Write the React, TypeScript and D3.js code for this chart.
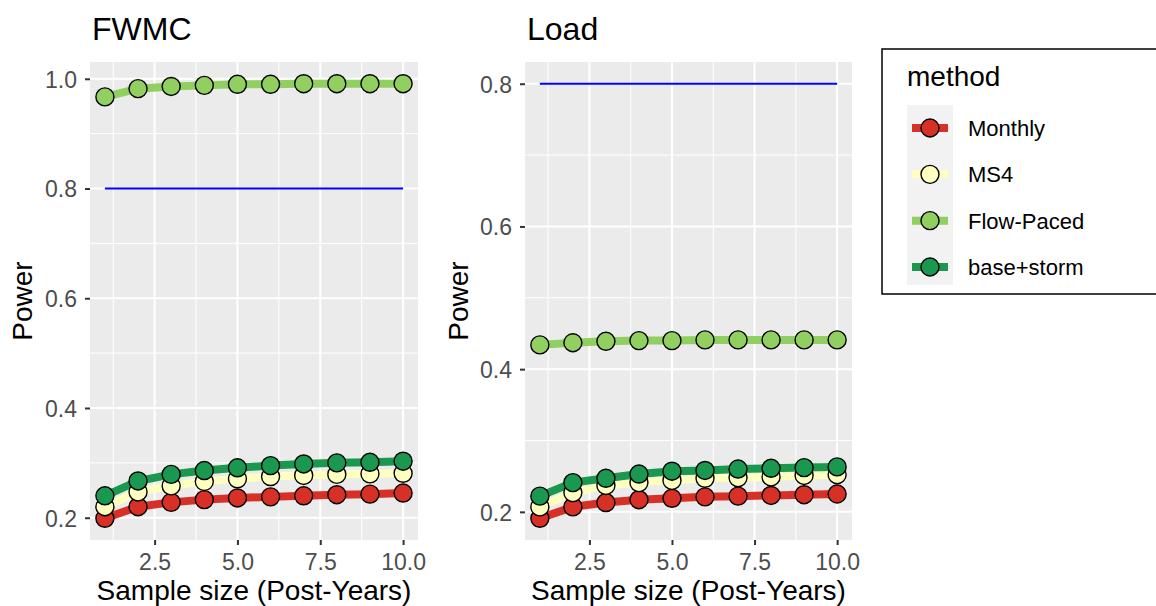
import React, { useEffect, useRef } from 'react';
import * as d3 from 'd3';

const years = [1, 2, 3, 4, 5, 6, 7, 8, 9, 10];
const methods = ['Monthly', 'MS4', 'Flow-Paced', 'base+storm'];
const colors = ['#D73027', '#FFFFBF', '#91CF60', '#1A9850'];
const target = 0.8;

// FWMC panel
const monthlyFwmc = [0.199, 0.220, 0.228, 0.233, 0.236, 0.238, 0.240, 0.242, 0.243, 0.245];
const ms4Fwmc = [0.220, 0.247, 0.258, 0.266, 0.271, 0.275, 0.277, 0.279, 0.280, 0.281];
const flowFwmc = [0.967, 0.982, 0.986, 0.988, 0.990, 0.990, 0.991, 0.991, 0.991, 0.991];
const baseStormFwmc = [0.240, 0.267, 0.279, 0.286, 0.291, 0.295, 0.298, 0.300, 0.301, 0.303];

// Load panel
const monthlyLoad = [0.191, 0.207, 0.213, 0.217, 0.219, 0.221, 0.222, 0.223, 0.224, 0.225];
const ms4Load = [0.207, 0.227, 0.237, 0.241, 0.244, 0.247, 0.248, 0.249, 0.251, 0.252];
const flowLoad = [0.434, 0.437, 0.439, 0.440, 0.440, 0.441, 0.441, 0.441, 0.441, 0.441];
const baseStormLoad = [0.222, 0.241, 0.247, 0.253, 0.257, 0.258, 0.260, 0.261, 0.262, 0.263];

const xTicks = [2.5, 5.0, 7.5, 10.0];
const xMinor = [1.25, 3.75, 6.25, 8.75];

const FONT = '"Liberation Sans", Arial, sans-serif';

const App = () => {
    const ref = useRef<SVGSVGElement>(null);

    useEffect(() => {
        const svg = d3.select(ref.current);
        svg.selectAll('*').remove();

        const panels = [
            { title: 'FWMC', left: 90, right: 418, series: [monthlyFwmc, ms4Fwmc, flowFwmc, baseStormFwmc], yTicks: [0.2, 0.4, 0.6, 0.8, 1.0], yMinor: [0.3, 0.5, 0.7, 0.9], labelX: 22 },
            { title: 'Load', left: 525, right: 852, series: [monthlyLoad, ms4Load, flowLoad, baseStormLoad], yTicks: [0.2, 0.4, 0.6, 0.8], yMinor: [0.3, 0.5, 0.7], labelX: 458 },
        ];
        const top = 62;
        const bottom = 540;

        panels.forEach(p => {
            const all = [...p.series.flat(), target];
            const [lo, hi] = d3.extent(all) as [number, number];
            const pad = (hi - lo) * 0.05;
            const x = d3.scaleLinear().domain([1 - 0.45, 10 + 0.45]).range([p.left, p.right]);
            const y = d3.scaleLinear().domain([lo - pad, hi + pad]).range([bottom, top]);

            const g = svg.append('g');
            g.append('rect')
                .attr('x', p.left).attr('y', top)
                .attr('width', p.right - p.left).attr('height', bottom - top)
                .attr('fill', '#EBEBEB');

            // minor grid
            g.selectAll('.ymin').data(p.yMinor.filter(v => y(v) > top && y(v) < bottom)).enter().append('line')
                .attr('x1', p.left).attr('x2', p.right)
                .attr('y1', d => y(d)).attr('y2', d => y(d))
                .attr('stroke', '#fff').attr('stroke-width', 1);
            g.selectAll('.xmin').data(xMinor).enter().append('line')
                .attr('y1', top).attr('y2', bottom)
                .attr('x1', d => x(d)).attr('x2', d => x(d))
                .attr('stroke', '#fff').attr('stroke-width', 1);
            // major grid
            g.selectAll('.ymaj').data(p.yTicks).enter().append('line')
                .attr('x1', p.left).attr('x2', p.right)
                .attr('y1', d => y(d)).attr('y2', d => y(d))
                .attr('stroke', '#fff').attr('stroke-width', 2);
            g.selectAll('.xmaj').data(xTicks).enter().append('line')
                .attr('y1', top).attr('y2', bottom)
                .attr('x1', d => x(d)).attr('x2', d => x(d))
                .attr('stroke', '#fff').attr('stroke-width', 2);

            // target line
            g.append('line')
                .attr('x1', x(1)).attr('x2', x(10))
                .attr('y1', y(target)).attr('y2', y(target))
                .attr('stroke', '#0000FF').attr('stroke-width', 2);

            const line = d3.line<number>().x((d, i) => x(years[i])).y(d => y(d));
            p.series.forEach((s, k) => {
                g.append('path')
                    .attr('d', line(s))
                    .attr('fill', 'none')
                    .attr('stroke', colors[k])
                    .attr('stroke-width', 8);
            });
            p.series.forEach((s, k) => {
                g.selectAll(`.pt${k}`).data(s).enter().append('circle')
                    .attr('cx', (d, i) => x(years[i]))
                    .attr('cy', d => y(d))
                    .attr('r', 9)
                    .attr('fill', colors[k])
                    .attr('stroke', '#000')
                    .attr('stroke-width', 1.4);
            });

            // axes
            const yAxis = d3.axisLeft(y).tickValues(p.yTicks).tickFormat(d3.format('.1f')).tickSize(5).tickPadding(8);
            const xAxis = d3.axisBottom(x).tickValues(xTicks).tickFormat(d3.format('.1f')).tickSize(5).tickPadding(8);
            const ya = g.append('g').attr('transform', `translate(${p.left},0)`).call(yAxis);
            const xa = g.append('g').attr('transform', `translate(0,${bottom})`).call(xAxis);
            [ya, xa].forEach(a => {
                a.select('.domain').remove();
                a.selectAll('line').attr('stroke', '#333').attr('stroke-width', 2);
                a.selectAll('text').attr('fill', '#4D4D4D').attr('font-size', 23).attr('font-family', FONT);
            });
            ya.selectAll('text').attr('dy', '0.36em');
            xa.selectAll('text').attr('dy', '0.72em');

            g.append('text')
                .attr('x', p.left + 2).attr('y', 40)
                .attr('font-size', 32).attr('font-family', FONT)
                .text(p.title);
            g.append('text')
                .attr('transform', `translate(${p.labelX + 10},${(top + bottom) / 2}) rotate(-90)`)
                .attr('text-anchor', 'middle')
                .attr('font-size', 28).attr('font-family', FONT)
                .text('Power');
            g.append('text')
                .attr('x', (p.left + p.right) / 2).attr('y', 600)
                .attr('text-anchor', 'middle')
                .attr('font-size', 28).attr('font-family', FONT)
                .text('Sample size (Post-Years)');
        });

        // legend
        const lg = svg.append('g');
        lg.append('rect')
            .attr('x', 882).attr('y', 49).attr('width', 300).attr('height', 245)
            .attr('fill', '#fff').attr('stroke', '#000').attr('stroke-width', 1.5);
        lg.append('text')
            .attr('x', 907).attr('y', 86)
            .attr('font-size', 28).attr('font-family', FONT)
            .text('method');
        const ky = d3.scalePoint<string>().domain(methods).range([128, 267]);
        lg.append('rect')
            .attr('x', 907).attr('y', 105).attr('width', 46).attr('height', 180)
            .attr('fill', '#F2F2F2');
        methods.forEach((m, k) => {
            const cy = ky(m) as number;
            lg.append('line')
                .attr('x1', 912).attr('x2', 948).attr('y1', cy).attr('y2', cy)
                .attr('stroke', colors[k]).attr('stroke-width', 8);
            lg.append('circle')
                .attr('cx', 930).attr('cy', cy).attr('r', 9)
                .attr('fill', colors[k]).attr('stroke', '#000').attr('stroke-width', 1.4);
            lg.append('text')
                .attr('x', 968).attr('y', cy).attr('dy', '0.36em')
                .attr('font-size', 22).attr('font-family', FONT)
                .text(m);
        });
    }, []);

    return (
        <svg ref={ref} width={1156} height={606}
            style={{ position: 'absolute', left: 0, top: 0, background: '#fff' }} />
    );
};

export default App;
